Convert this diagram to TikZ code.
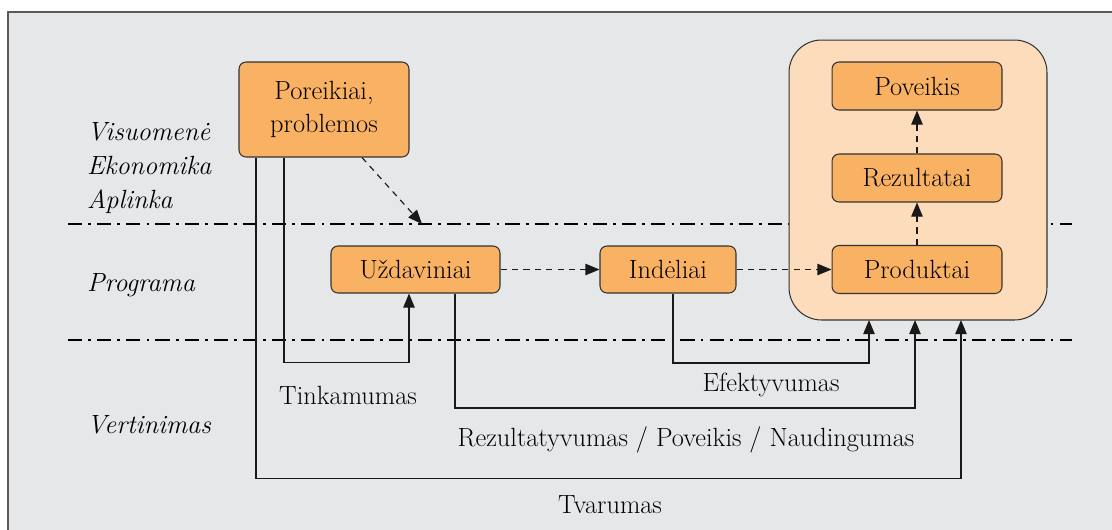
\documentclass[tikz,border=0pt]{standalone}
\usepackage{tikz}
\usetikzlibrary{arrows.meta,calc}

\definecolor{panel}{HTML}{E6E7E8}
\definecolor{boxfill}{HTML}{F9B163}
\definecolor{groupfill}{HTML}{FDDCBB}
\definecolor{framegray}{HTML}{5A5A5A}

\tikzset{
  stage/.style={draw=black!80, fill=boxfill, rounded corners=4pt, line width=0.6pt,
    inner sep=0pt, align=center, font=\fontsize{15}{18.5}\selectfont},
  level/.style={anchor=west, align=left, font=\fontsize{15}{18.5}\selectfont\itshape},
  lbl/.style={font=\fontsize{15}{18}\selectfont},
  flow/.style={draw=black!90, line width=0.65pt, -{Triangle[length=8pt,width=6.5pt]}},
  dflow/.style={flow, dash pattern=on 3.5pt off 3pt},
  divider/.style={line width=1.1pt, dash pattern=on 8pt off 3.5pt on 1.6pt off 3.5pt}
}

\begin{document}
\begin{tikzpicture}[x=0.02cm, y=-0.02cm]

\useasboundingbox (0,0) rectangle (1112,529);
\draw [fill=panel, draw=framegray, line width=0.8pt] (8,12) rectangle (1120,540) ;

% levels
\draw [divider] (68,224) -- (1072,224) ;
\draw [divider] (68,340) -- (1072,340) ;

\node [level] (soc) at (81,168) {Visuomen\.e\\[1pt]Ekonomika\\[1pt]Aplinka} ;
\node [level] (prog) at (81,285) {Programa} ;
\node [level] (eval) at (81,425) {Vertinimas} ;

% group of results
\node [draw=black!80, fill=groupfill, rounded corners=0.65cm, line width=0.6pt,
  minimum width=5.16cm, minimum height=5.6cm] (group) at (918,180) {} ;

% stages
\node [stage, minimum width=3.4cm, minimum height=1.9cm] (needs) at (324,109.5) {Poreikiai,\\problemos} ;
\node [stage, minimum width=3.38cm, minimum height=0.94cm] (tasks) at (415.5,269.5) {U\v zdaviniai} ;
\node [stage, minimum width=2.72cm, minimum height=0.94cm] (inputs) at (668,269.5) {Ind\.eliai} ;
\node [stage, minimum width=3.4cm, minimum height=0.96cm] (outputs) at (917,269.5) {Produktai} ;
\node [stage, minimum width=3.4cm, minimum height=0.96cm] (results) at (917,178) {Rezultatai} ;
\node [stage, minimum width=3.4cm, minimum height=0.96cm] (impact) at (917,86) {Poveikis} ;

% dashed flow
\coordinate (goal) at (422,224) ;
\draw [dflow] ($(needs.south)+(38,0)$) -- (goal) ;
\draw [dflow] (tasks) -- (inputs) ;
\draw [dflow] (inputs) -- (outputs) ;
\draw [dflow] (outputs) -- (results) ;
\draw [dflow] (results) -- (impact) ;

% evaluation criteria
\coordinate (effin) at (869,320) ;
\coordinate (resin) at (915,320) ;
\coordinate (susin) at (961,320) ;

\draw [flow] ($(needs.south)+(-40,0)$) -- ++(0,205) -| ($(tasks.south)+(-6.5,0)$) ;
\draw [flow] ($(inputs.south)+(5,0)$) -- ++(0,69.5) -| (effin) ;
\draw [flow] ($(tasks.south)+(39.5,0)$) -- ++(0,114.5) -| (resin) ;
\draw [flow] ($(needs.south)+(-68,0)$) -- ++(0,321) -| (susin) ;

\node [lbl] (fit) at (348,395) {Tinkamumas} ;
\node [lbl] (eff) at (771,385) {Efektyvumas} ;
\node [lbl] (res) at (686,440) {Rezultatyvumas / Poveikis / Naudingumas} ;
\node [lbl] (sus) at (610,505) {Tvarumas} ;

\end{tikzpicture}
\end{document}
